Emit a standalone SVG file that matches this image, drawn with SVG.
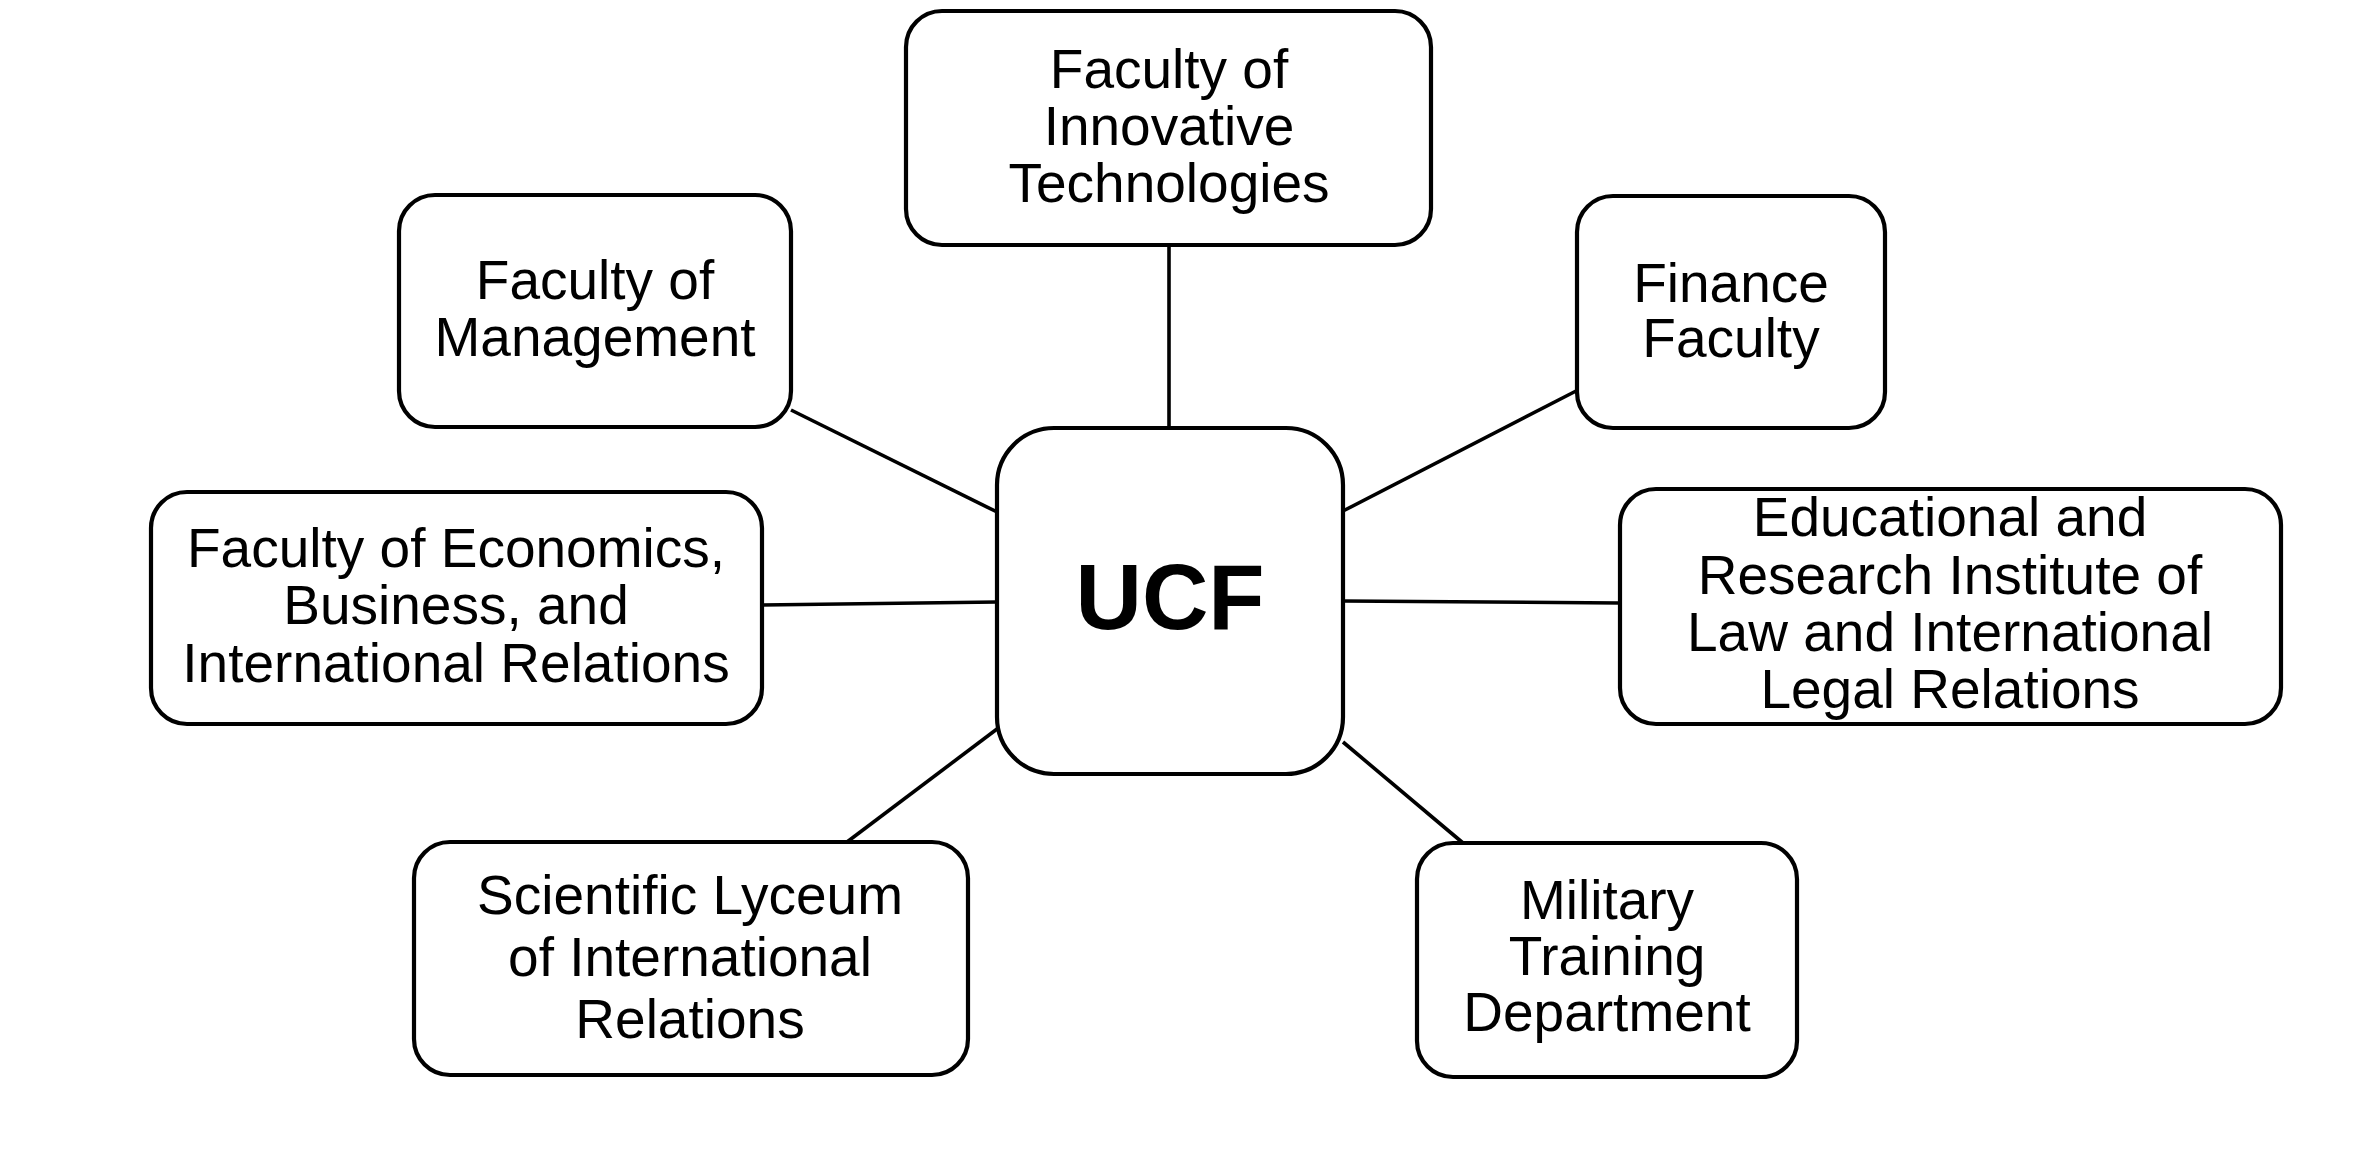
<svg xmlns="http://www.w3.org/2000/svg" width="2363" height="1155" viewBox="0 0 2363 1155">
<style>
.box{fill:#fff;stroke:#000;stroke-width:4.2}
.lbl{font-family:"Liberation Sans",Arial,sans-serif;font-size:55px;fill:#000;text-anchor:middle}
.big{font-family:"Liberation Sans",Arial,sans-serif;font-size:92px;font-weight:bold;fill:#000;text-anchor:middle}
.con line{stroke:#000;stroke-width:3.6;fill:none}
</style>
<rect width="2363" height="1155" fill="#fff"/>
<g id="connectors" class="con">
<line x1="1169" y1="245" x2="1169" y2="428"/>
<line x1="791" y1="410" x2="997" y2="512"/>
<line x1="1578" y1="390" x2="1343" y2="511"/>
<line x1="762" y1="605" x2="997" y2="602"/>
<line x1="1343" y1="601" x2="1620" y2="603"/>
<line x1="997" y1="729" x2="847" y2="842"/>
<line x1="1343" y1="742" x2="1463" y2="843"/>
</g>
<g id="ucf">
<rect class="box" x="997" y="428" width="346" height="346" rx="57"/>
<text class="big" x="1170" y="629">UCF</text>
</g>
<g id="innovative">
<rect class="box" x="906" y="11" width="525" height="234" rx="36"/>
<text class="lbl" x="1169" y="88">Faculty of</text>
<text class="lbl" x="1169" y="145">Innovative</text>
<text class="lbl" x="1169" y="202">Technologies</text>
</g>
<g id="management">
<rect class="box" x="399" y="195" width="392" height="232" rx="36"/>
<text class="lbl" x="595" y="299">Faculty of</text>
<text class="lbl" x="595" y="356">Management</text>
</g>
<g id="finance">
<rect class="box" x="1577" y="196" width="308" height="232" rx="36"/>
<text class="lbl" x="1731" y="302">Finance</text>
<text class="lbl" x="1731" y="357">Faculty</text>
</g>
<g id="economics">
<rect class="box" x="151" y="492" width="611" height="232" rx="36"/>
<text class="lbl" x="456" y="567">Faculty of Economics,</text>
<text class="lbl" x="456" y="624">Business, and</text>
<text class="lbl" x="456" y="682">International Relations</text>
</g>
<g id="law">
<rect class="box" x="1620" y="489" width="661" height="235" rx="36"/>
<text class="lbl" x="1950" y="536">Educational and</text>
<text class="lbl" x="1950" y="594">Research Institute of</text>
<text class="lbl" x="1950" y="651">Law and International</text>
<text class="lbl" x="1950" y="708">Legal Relations</text>
</g>
<g id="lyceum">
<rect class="box" x="414" y="842" width="554" height="233" rx="36"/>
<text class="lbl" x="690" y="914">Scientific Lyceum</text>
<text class="lbl" x="690" y="976">of International</text>
<text class="lbl" x="690" y="1038">Relations</text>
</g>
<g id="military">
<rect class="box" x="1417" y="843" width="380" height="234" rx="36"/>
<text class="lbl" x="1607" y="919">Military</text>
<text class="lbl" x="1607" y="975">Training</text>
<text class="lbl" x="1607" y="1031">Department</text>
</g>
</svg>
